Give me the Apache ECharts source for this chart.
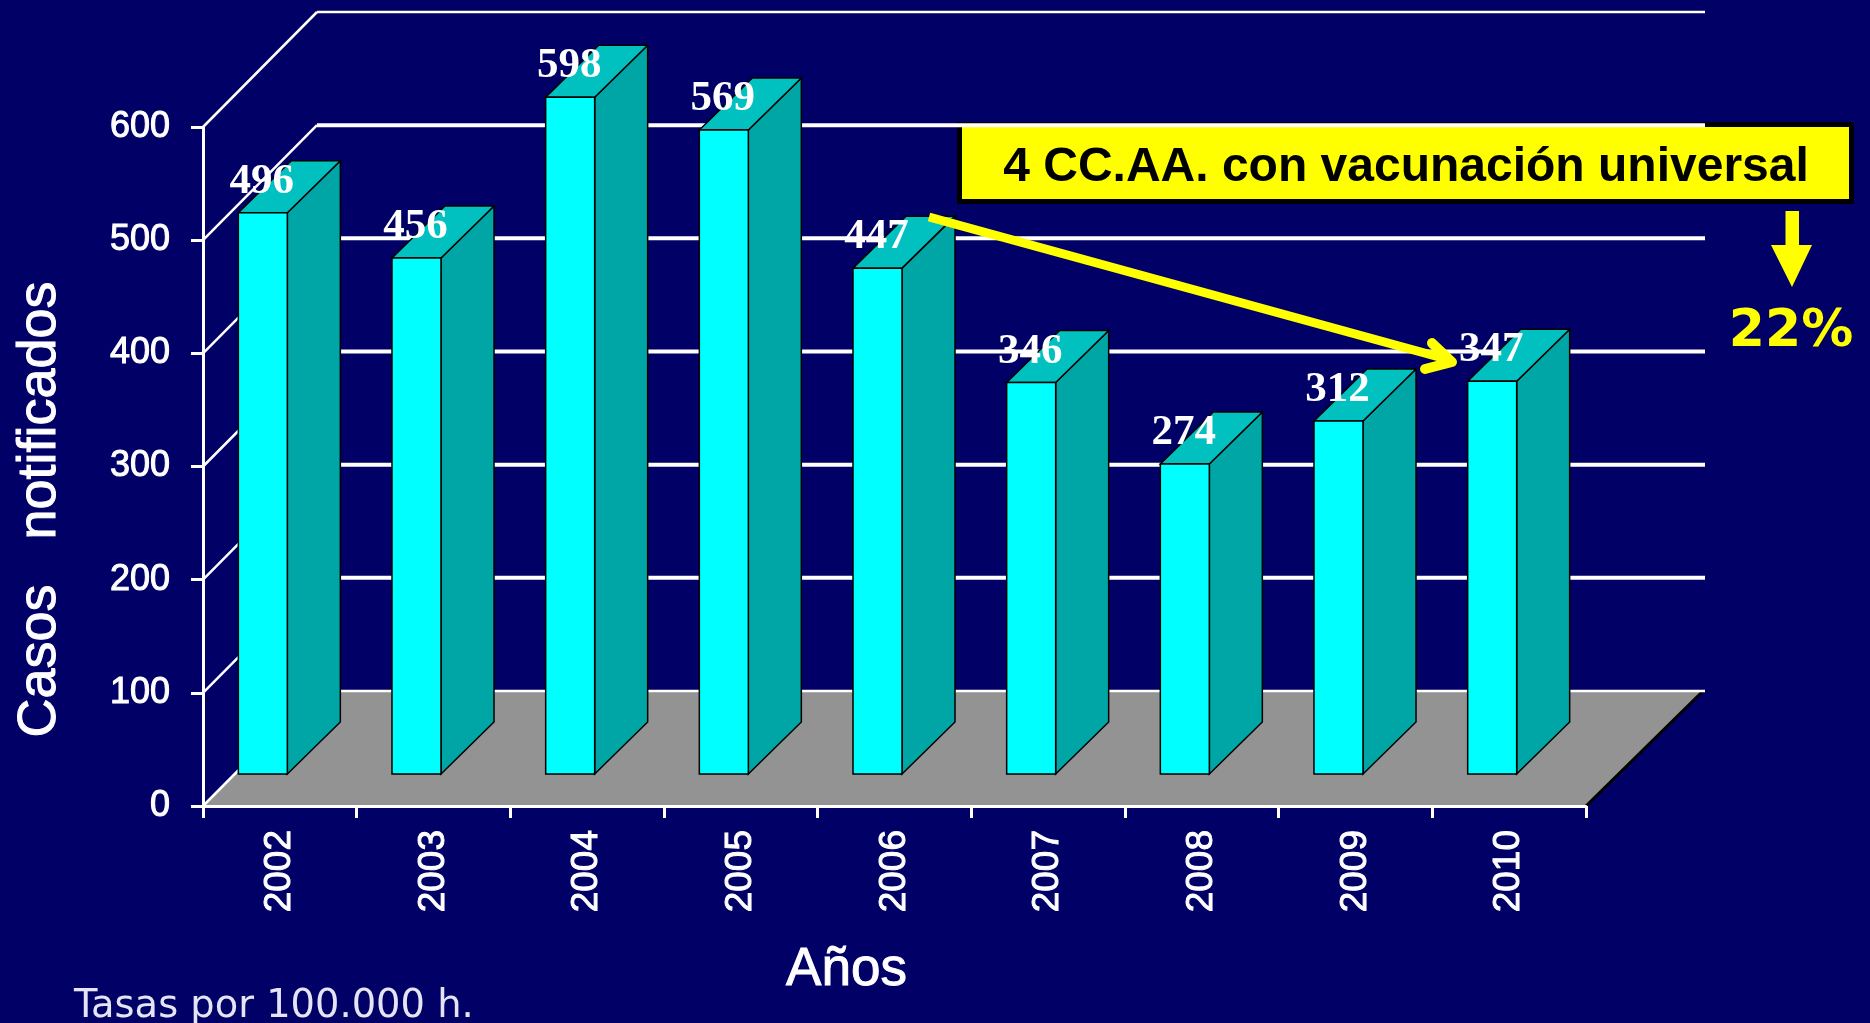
<!DOCTYPE html>
<html>
<head>
<meta charset="utf-8">
<title>Casos notificados</title>
<style>
  html, body { margin: 0; padding: 0; background: #000066; }
  #chart { width: 1870px; height: 1023px; }
</style>
<script src="https://cdn.jsdelivr.net/npm/echarts@6/dist/echarts.min.js"></script>
</head>
<body>
<div id="chart"></div>
<script>
const years = ['2002', '2003', '2004', '2005', '2006', '2007', '2008', '2009', '2010'];
const casos = [496, 456, 598, 569, 447, 346, 274, 312, 347];
const yTicks = [0, 100, 200, 300, 400, 500, 600];

// fake 3d: the front of the box sits this far from the axis position
const WALL_DX = 114, WALL_DY = 115;
const BAR_W = 49, BAR_DX = 53, BAR_DY = 52;
const BAR_SHIFT_X = -17, BAR_SHIFT_Y = -32;

function renderFloor(params, api) {
  const cs = params.coordSys;
  const y0 = api.coord([0, 0])[1];
  const l = cs.x, r = cs.x + cs.width;
  return {
    type: 'group',
    children: [
      {
        type: 'polygon',
        shape: { points: [[l, y0], [r, y0], [r + 117, y0 - WALL_DY], [l + WALL_DX, y0 - WALL_DY]] },
        style: { fill: '#939393' }
      },
      {
        type: 'line',
        shape: { x1: r, y1: y0, x2: r + 117, y2: y0 - WALL_DY },
        style: { stroke: '#000', lineWidth: 3 }
      }
    ]
  };
}

function renderWall(params, api) {
  const cs = params.coordSys;
  const v = api.value(0);
  const y = api.coord([0, v])[1];
  const l = cs.x, r = cs.x + cs.width;
  const thin = v === 0 || v === 600;
  return {
    type: 'group',
    children: [
      {
        type: 'line',
        shape: { x1: l, y1: y, x2: l + WALL_DX, y2: y - WALL_DY },
        style: { stroke: '#fff', lineWidth: 2.5 }
      },
      {
        type: 'line',
        shape: { x1: l + WALL_DX, y1: y - WALL_DY, x2: r + 119, y2: y - WALL_DY },
        style: { stroke: '#fff', lineWidth: thin ? 2.5 : 4 }
      }
    ]
  };
}

function renderBar(params, api) {
  const top = api.coord([api.value(0), api.value(1)]);
  const base = api.coord([api.value(0), 0]);
  const x0 = top[0] + BAR_SHIFT_X - BAR_W / 2, x1 = x0 + BAR_W;
  const yT = top[1] + BAR_SHIFT_Y, yB = base[1] + BAR_SHIFT_Y;
  const edge = { stroke: '#000', lineWidth: 1.5 };
  return {
    type: 'group',
    children: [
      {
        type: 'polygon',
        shape: { points: [[x1, yT], [x1 + BAR_DX, yT - BAR_DY], [x1 + BAR_DX, yB - BAR_DY], [x1, yB]] },
        style: Object.assign({ fill: '#00A5A5' }, edge)
      },
      {
        type: 'polygon',
        shape: { points: [[x0, yT], [x0 + BAR_DX, yT - BAR_DY], [x1 + BAR_DX, yT - BAR_DY], [x1, yT]] },
        style: Object.assign({ fill: '#00C0C0' }, edge)
      },
      {
        type: 'rect',
        shape: { x: x0, y: yT, width: BAR_W, height: yB - yT },
        style: Object.assign({ fill: '#00FFFF' }, edge)
      },
      {
        type: 'text',
        style: {
          text: String(api.value(1)),
          x: x0 + BAR_W / 2 - 1,
          y: yT - 31,
          align: 'center',
          verticalAlign: 'middle',
          fill: '#fff',
          font: 'bold 43px "Liberation Serif"'
        }
      }
    ]
  };
}

const chart = echarts.init(document.getElementById('chart'));
chart.setOption({
  backgroundColor: '#000066',
  animation: false,
  grid: { left: 203, right: 284, top: 127, bottom: 217 },
  xAxis: {
    type: 'category',
    data: years,
    z: 10,
    name: 'Años',
    nameLocation: 'middle',
    nameGap: 138,
    nameTextStyle: { color: '#fff', fontSize: 53, fontFamily: 'Liberation Sans', padding: [0, 96, 0, 0], textBorderColor: '#fff', textBorderWidth: 1 },
    axisLine: { lineStyle: { color: '#fff', width: 3 } },
    axisTick: { show: true, length: 12, lineStyle: { color: '#fff', width: 3 } },
    axisLabel: { rotate: 90, margin: 24, color: '#fff', fontSize: 37, fontFamily: 'Liberation Sans', textBorderColor: '#fff', textBorderWidth: 1 },
    splitLine: { show: false }
  },
  yAxis: {
    type: 'value',
    min: 0,
    max: 600,
    interval: 100,
    z: 10,
    name: 'Casos   notificados',
    nameLocation: 'middle',
    nameRotate: 90,
    nameGap: 136,
    nameTextStyle: { color: '#fff', fontSize: 54, fontFamily: 'Liberation Sans', padding: [0, 86, 0, 0], textBorderColor: '#fff', textBorderWidth: 1 },
    axisLine: { show: true, lineStyle: { color: '#fff', width: 3 } },
    axisTick: { show: true, length: 12, lineStyle: { color: '#fff', width: 3 } },
    axisLabel: { margin: 33, color: '#fff', fontSize: 36, fontFamily: 'Liberation Sans', textBorderColor: '#fff', textBorderWidth: 1 },
    splitLine: { show: false }
  },
  series: [
    { type: 'custom', name: 'suelo', z: 2, data: [[0]], renderItem: renderFloor, silent: true },
    { type: 'custom', name: 'rejilla', z: 3, data: yTicks.map(v => [v]), encode: { y: 0 }, renderItem: renderWall, silent: true },
    { type: 'custom', name: 'Casos notificados', z: 4, data: casos.map((v, i) => [i, v]), encode: { x: 0, y: 1 }, renderItem: renderBar }
  ],
  graphic: {
    elements: [
      {
        type: 'rect',
        z: 1,
        shape: { x: 959.5, y: 124.5, width: 892, height: 77 },
        style: { fill: '#FFFF00', stroke: '#000', lineWidth: 5 }
      },
      {
        type: 'text',
        z: 20,
        style: {
          text: '4 CC.AA. con vacunación universal',
          x: 1406, y: 168,
          align: 'center', verticalAlign: 'middle',
          fill: '#000',
          font: 'bold 48px "Liberation Sans"'
        }
      },
      {
        type: 'polyline',
        z: 20,
        shape: { points: [[929, 217], [1450, 360]] },
        style: { stroke: '#FFFF00', lineWidth: 9, fill: null }
      },
      {
        type: 'polyline',
        z: 20,
        shape: { points: [[1432, 343], [1452, 362], [1425, 369]] },
        style: { stroke: '#FFFF00', lineWidth: 10, fill: null, lineCap: 'round', lineJoin: 'round' }
      },
      {
        type: 'polygon',
        z: 20,
        shape: { points: [[1785.5, 211], [1799, 211], [1799, 245], [1812, 245], [1792, 287], [1771, 245], [1785.5, 245]] },
        style: { fill: '#FFFF00' }
      },
      {
        type: 'text',
        z: 20,
        style: {
          text: '22%',
          x: 1791, y: 358,
          align: 'center', verticalAlign: 'bottom',
          fill: '#FFFF00',
          font: 'bold 52px "DejaVu Sans"'
        }
      },
      {
        type: 'text',
        z: 20,
        style: {
          text: 'Tasas por 100.000 h.',
          x: 74, y: 1007,
          align: 'left', verticalAlign: 'middle',
          fill: '#E4E4F4',
          font: '38.4px "DejaVu Sans"'
        }
      }
    ]
  }
});
</script>
</body>
</html>
